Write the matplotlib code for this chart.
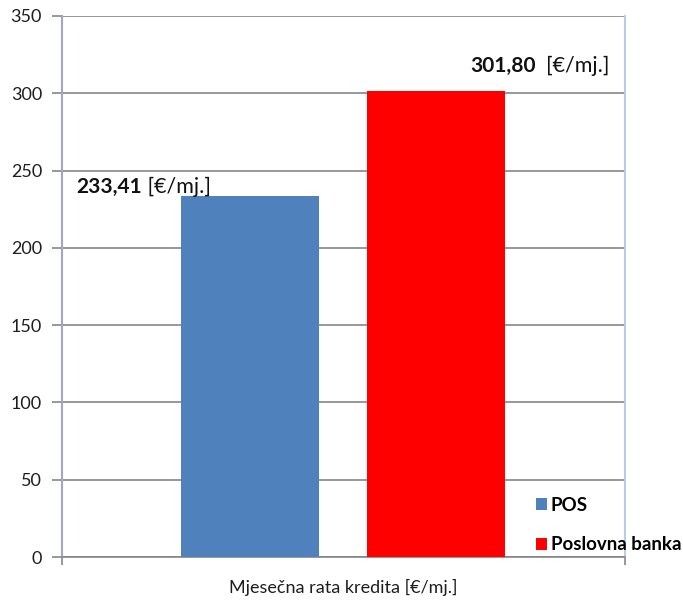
import matplotlib
matplotlib.use("Agg")
import matplotlib.pyplot as plt
from matplotlib.patches import Patch

# ---- data ----
series_names = ["POS", "Poslovna banka"]
series_values = [233.41, 301.80]
value_labels = ["233,41", "301,80"]
unit_labels = [" [€/mj.]", "  [€/mj.]"]
category = "Mjesečna rata kredita [€/mj.]"
colors = ["#4F81BD", "#FF0000"]
yticks = [0, 50, 100, 150, 200, 250, 300, 350]

plt.rcParams['font.family'] = ['Lato', 'DejaVu Sans']

fig = plt.figure(figsize=(6.83, 6.02), dpi=100)
ax = fig.add_axes([61.5/683, 1-557/602, (625-61.5)/683, (557-16)/602])

bar_w = 0.49
gap = 0.17
offsets = [-(bar_w + gap)/2, (bar_w + gap)/2]
for off, v, c, n in zip(offsets, series_values, colors, series_names):
    ax.bar(0 + off, v, width=bar_w, color=c, label=n, zorder=3)

ax.set_xlim(-1, 1)
ax.set_ylim(0, 350)
ax.set_yticks(yticks)
ax.set_yticklabels([str(t) for t in yticks], fontsize=13, color="#1E1E1E")
ax.set_xticks([0])
ax.set_xticklabels([category], fontsize=13, color="#1E1E1E")
ax.set_xticks([-1, 1], minor=True)
ax.tick_params(axis='x', which='major', length=0, pad=16)
ax.tick_params(axis='x', which='minor', length=6, width=1.2, color="#868686", direction='out')
ax.tick_params(axis='y', length=7, width=1.2, color="#868686", pad=7)
ax.grid(axis='y', color="#868686", linewidth=1.2, zorder=0)
ax.set_axisbelow(True)

ax.spines["left"].set_color("#A0A8BC")
ax.spines["left"].set_linewidth(1.5)
ax.spines["bottom"].set_color("#868686")
ax.spines["bottom"].set_linewidth(1.2)
ax.spines["top"].set_visible(False)
ax.spines["right"].set_color("#B9CDE5")
ax.spines["right"].set_linewidth(1.5)

# annotation positions
ann_pos = [(-0.947, 235.5), (0.449, 313.7)]
for (x, y), vl, ul in zip(ann_pos, value_labels, unit_labels):
    t1 = ax.text(x, y, vl, fontsize=15, fontweight='bold', va='baseline', ha='left',
                 color="#111111", zorder=5)
    ax.annotate(ul, xy=(1, 0), xycoords=t1, va='bottom', ha='left', fontsize=15.5,
                color="#111111", zorder=5, annotation_clip=False)

handles = [Patch(facecolor=c, edgecolor='none', label=n) for c, n in zip(colors, series_names)]
leg = fig.legend(handles=handles, loc='upper left', bbox_to_anchor=(536/683, 1-497/602),
                 frameon=False, borderpad=0, borderaxespad=0, handlelength=0.6,
                 handleheight=0.6, handletextpad=0.2, labelspacing=1.2,
                 prop={'family': ['Lato', 'DejaVu Sans'], 'weight': 'bold', 'size': 13.5})

fig.savefig("out.png", dpi=100)
